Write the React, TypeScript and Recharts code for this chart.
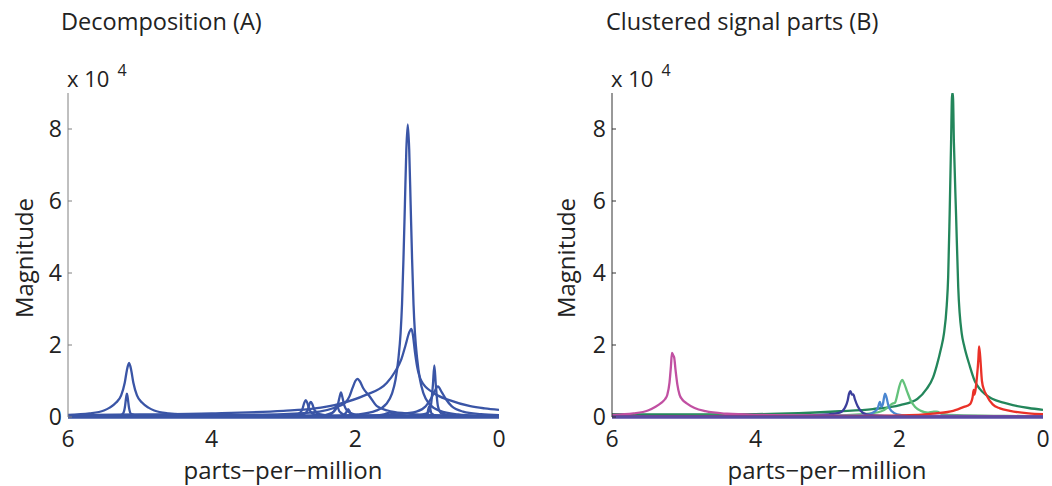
import React from 'react';
import { LineChart, Line, XAxis, YAxis } from 'recharts';

type Pt = [number, number];

// x = parts-per-million, y = magnitude (x 10^4)
const ppmTicks = [0, 2, 4, 6];
const magTicks = [0, 2, 4, 6, 8];

// Panel A: individual decomposed components
const compA515: Pt[] = [[6, 0.06], [5.7, 0.1], [5.5, 0.18], [5.42, 0.26], [5.33, 0.4], [5.26, 0.6], [5.21, 0.95], [5.18, 1.3], [5.15, 1.5], [5.12, 1.3], [5.09, 0.95], [5.04, 0.6], [4.97, 0.4], [4.88, 0.26], [4.8, 0.18], [4.6, 0.1], [4.2, 0.05], [3, 0.02], [0, 0.01]];
const compA518: Pt[] = [[6, 0.01], [5.3, 0.03], [5.24, 0.08], [5.21, 0.25], [5.19, 0.55], [5.18, 0.65], [5.17, 0.55], [5.15, 0.25], [5.12, 0.08], [5.0, 0.03], [0, 0.0]];
const compA269: Pt[] = [[6, 0.01], [3.0, 0.03], [2.8, 0.08], [2.74, 0.2], [2.71, 0.4], [2.69, 0.47], [2.67, 0.4], [2.64, 0.2], [2.58, 0.08], [2.4, 0.03], [0, 0.01]];
const compA262: Pt[] = [[6, 0.01], [2.9, 0.03], [2.72, 0.08], [2.66, 0.2], [2.64, 0.36], [2.62, 0.42], [2.6, 0.36], [2.57, 0.2], [2.5, 0.08], [2.3, 0.03], [0, 0.01]];
const compA226: Pt[] = [[6, 0.01], [2.4, 0.04], [2.3, 0.15], [2.27, 0.3], [2.26, 0.33], [2.25, 0.3], [2.22, 0.15], [2.12, 0.04], [0, 0.01]];
const compA220: Pt[] = [[6, 0.01], [2.5, 0.04], [2.32, 0.12], [2.25, 0.3], [2.22, 0.55], [2.2, 0.68], [2.18, 0.55], [2.15, 0.3], [2.08, 0.12], [1.9, 0.04], [0, 0.01]];
const compA210: Pt[] = [[6, 0.0], [2.2, 0.03], [2.13, 0.12], [2.1, 0.22], [2.07, 0.12], [2.0, 0.03], [0, 0.0]];
const compA197: Pt[] = [[6, 0.03], [4, 0.05], [3, 0.08], [2.5, 0.15], [2.3, 0.25], [2.14, 0.4], [2.08, 0.58], [2.04, 0.8], [2.0, 1.0], [1.97, 1.06], [1.94, 1.0], [1.89, 0.8], [1.8, 0.57], [1.7, 0.3], [1.55, 0.18], [1.3, 0.1], [1, 0.06], [0, 0.03]];
const compA152: Pt[] = [[6, 0.0], [1.8, 0.02], [1.6, 0.07], [1.52, 0.12], [1.44, 0.07], [1.25, 0.02], [0, 0.0]];
const compA127: Pt[] = [[6, 0.0], [3.27, 0.01], [2.27, 0.03], [1.97, 0.07], [1.72, 0.17], [1.57, 0.36], [1.49, 0.65], [1.44, 1.04], [1.4, 1.63], [1.37, 2.33], [1.35, 3.13], [1.33, 4.39], [1.31, 5.9], [1.29, 7.43], [1.27, 8.13], [1.25, 7.43], [1.23, 5.9], [1.21, 4.39], [1.19, 3.13], [1.17, 2.33], [1.14, 1.63], [1.1, 1.04], [1.05, 0.65], [0.97, 0.36], [0.82, 0.17], [0.57, 0.07], [0.27, 0.03], [0, 0.02]];
const compA122: Pt[] = [[6, 0.05], [5, 0.07], [4, 0.1], [3, 0.17], [2.59, 0.23], [2.21, 0.37], [1.87, 0.6], [1.56, 0.95], [1.45, 1.25], [1.36, 1.6], [1.3, 2.0], [1.25, 2.35], [1.22, 2.45], [1.2, 2.3], [1.17, 1.8], [1.14, 1.4], [1.08, 1.0], [0.92, 0.68], [0.68, 0.46], [0.4, 0.3], [0.2, 0.24], [0, 0.2]];
const compA097: Pt[] = [[6, 0.0], [1.1, 0.02], [1.0, 0.1], [0.97, 0.3], [0.94, 0.1], [0.85, 0.02], [0, 0.0]];
const compA090: Pt[] = [[6, 0.0], [1.2, 0.03], [1.0, 0.1], [0.95, 0.3], [0.92, 0.9], [0.9, 1.43], [0.88, 0.9], [0.85, 0.3], [0.8, 0.1], [0.6, 0.03], [0, 0.01]];
const compA085: Pt[] = [[6, 0.01], [2, 0.03], [1.4, 0.08], [1.15, 0.15], [1.02, 0.3], [0.95, 0.5], [0.9, 0.7], [0.85, 0.85], [0.8, 0.7], [0.74, 0.5], [0.66, 0.3], [0.5, 0.15], [0.25, 0.08], [0, 0.05]];

const decomposition = [compA515, compA518, compA269, compA262, compA226, compA220, compA210, compA197, compA152, compA127, compA122, compA097, compA090, compA085];

// Panel B: clustered signal parts
const clusterLipid: Pt[] = [[6, 0.06], [5.7, 0.1], [5.5, 0.18], [5.4, 0.28], [5.31, 0.4], [5.26, 0.5], [5.23, 0.62], [5.2, 0.95], [5.18, 1.4], [5.165, 1.78], [5.15, 1.72], [5.135, 1.66], [5.115, 1.3], [5.09, 0.9], [5.06, 0.62], [5.02, 0.48], [4.96, 0.38], [4.85, 0.25], [4.7, 0.16], [4.4, 0.09], [4, 0.06], [3, 0.04], [2, 0.03], [0, 0.02]];
const clusterNavy: Pt[] = [[6, 0.01], [3.5, 0.03], [3, 0.07], [2.83, 0.12], [2.76, 0.25], [2.72, 0.45], [2.7, 0.65], [2.68, 0.72], [2.66, 0.62], [2.64, 0.63], [2.62, 0.5], [2.58, 0.3], [2.51, 0.12], [2.4, 0.05], [2, 0.02], [0, 0.01]];
const clusterSky: Pt[] = [[6, 0.01], [2.6, 0.03], [2.45, 0.06], [2.35, 0.14], [2.3, 0.25], [2.27, 0.42], [2.25, 0.28], [2.23, 0.35], [2.2, 0.65], [2.18, 0.55], [2.15, 0.3], [2.1, 0.15], [2.03, 0.07], [1.9, 0.04], [0, 0.01]];
const clusterLime: Pt[] = [[6, 0.02], [3, 0.04], [2.5, 0.08], [2.25, 0.16], [2.15, 0.28], [2.1, 0.37], [2.08, 0.38], [2.06, 0.4], [2.03, 0.6], [2.0, 0.85], [1.96, 1.03], [1.93, 0.92], [1.89, 0.7], [1.84, 0.45], [1.78, 0.28], [1.7, 0.17], [1.6, 0.12], [1.52, 0.15], [1.48, 0.15], [1.4, 0.08], [1.2, 0.05], [0.5, 0.03], [0, 0.02]];
const clusterForest: Pt[] = [[6, 0.08], [5, 0.07], [4, 0.08], [3.4, 0.11], [2.83, 0.16], [2.37, 0.22], [1.99, 0.33], [1.75, 0.5], [1.62, 0.78], [1.53, 1.1], [1.48, 1.42], [1.42, 1.9], [1.38, 2.3], [1.34, 3.1], [1.32, 3.9], [1.3, 5.6], [1.28, 7.6], [1.265, 9], [1.255, 9], [1.24, 7.6], [1.21, 5.6], [1.18, 3.6], [1.13, 2.3], [1.1, 2.0], [1.02, 1.42], [0.95, 1.0], [0.88, 0.78], [0.7, 0.5], [0.55, 0.4], [0.42, 0.33], [0.2, 0.25], [0, 0.2]];
const clusterRed: Pt[] = [[6, 0.01], [3, 0.02], [2, 0.04], [1.5, 0.1], [1.25, 0.17], [1.1, 0.28], [1.02, 0.35], [0.98, 0.55], [0.965, 0.75], [0.955, 0.62], [0.94, 0.75], [0.92, 1.1], [0.9, 1.6], [0.89, 1.96], [0.875, 1.7], [0.85, 1.0], [0.82, 0.75], [0.79, 0.62], [0.7, 0.35], [0.6, 0.24], [0.46, 0.17], [0.2, 0.1], [0, 0.08]];

const clusters = [clusterForest, clusterLime, clusterSky, clusterNavy, clusterLipid, clusterRed];
const clusterColors = ['#23865b', '#63c27b', '#4a86d0', '#3b3e9b', '#c150a2', '#ea3128'];

const toRows = (pts: Pt[]) => pts.map(([x, y]) => ({ x, y }));

const FONT = '"Open Sans", "DejaVu Sans", sans-serif';
const tickStyle = { fontSize: 23, fill: '#222', fontFamily: FONT };

interface PanelProps {
  left: number;
  width: number;
  plotLeft: number;
  plotRight: number;
  axisColor: string;
  baseColor: string;
  series: Pt[][];
  colors: string[];
}

const Panel: React.FC<PanelProps> = ({ left, width, plotLeft, plotRight, axisColor, baseColor, series, colors }) => (
  <div style={{ position: 'absolute', left, top: 0 }}>
    <LineChart
      width={width}
      height={486}
      margin={{ top: 93, right: width - plotRight, bottom: 39, left: plotLeft - 60 }}
    >
      <XAxis
        type="number"
        dataKey="x"
        domain={[0, 6]}
        ticks={ppmTicks}
        reversed
        allowDataOverflow
        height={30}
        tickLine={false}
        tickMargin={8}
        axisLine={{ stroke: baseColor, strokeWidth: 3.5 }}
        tick={tickStyle}
      />
      <YAxis
        type="number"
        dataKey="y"
        domain={[0, 9]}
        ticks={magTicks}
        allowDataOverflow
        width={60}
        tickSize={-4}
        tickMargin={10}
        tickLine={{ stroke: axisColor }}
        axisLine={{ stroke: axisColor }}
        tick={tickStyle}
      />
      {series.map((pts, i) => (
        <Line
          key={i}
          data={toRows(pts)}
          dataKey="y"
          type="monotone"
          stroke={colors[i % colors.length]}
          strokeWidth={2.3}
          dot={false}
          isAnimationActive={false}
        />
      ))}
    </LineChart>
  </div>
);

const text = (extra: React.CSSProperties): React.CSSProperties => ({
  position: 'absolute',
  fontFamily: FONT,
  fontSize: 24,
  color: '#222',
  whiteSpace: 'nowrap',
  lineHeight: 1,
  ...extra,
});

const supStyle: React.CSSProperties = { fontSize: 16, marginLeft: 8, position: 'relative', top: -11, verticalAlign: 'baseline' };

export default function App() {
  return (
    <div style={{ position: 'absolute', left: 0, top: 0, width: 1052, height: 486, background: '#fff', overflow: 'hidden' }}>
      <Panel left={0} width={520} plotLeft={68} plotRight={499} axisColor="#808080" baseColor="#3a55a6" series={decomposition} colors={['#3a55a6']} />
      <Panel left={540} width={512} plotLeft={72} plotRight={503} axisColor="#333" baseColor="#5a4ba2" series={clusters} colors={clusterColors} />

      <div style={text({ left: 61, top: 10, fontSize: 23.5 })}>Decomposition (A)</div>
      <div style={text({ left: 606, top: 10, fontSize: 23.5 })}>Clustered signal parts (B)</div>

      <div style={text({ left: 67, top: 67, fontSize: 22 })}>
        x 10<sup style={supStyle}>4</sup>
      </div>
      <div style={text({ left: 611, top: 67, fontSize: 22 })}>
        x 10<sup style={supStyle}>4</sup>
      </div>

      <div style={text({ left: 24, top: 258, transform: 'translate(-50%, -50%) rotate(-90deg)' })}>Magnitude</div>
      <div style={text({ left: 566, top: 258, transform: 'translate(-50%, -50%) rotate(-90deg)' })}>Magnitude</div>

      <div style={text({ left: 283, top: 470, transform: 'translate(-50%, -50%)' })}>parts−per−million</div>
      <div style={text({ left: 827, top: 470, transform: 'translate(-50%, -50%)' })}>parts−per−million</div>
    </div>
  );
}
